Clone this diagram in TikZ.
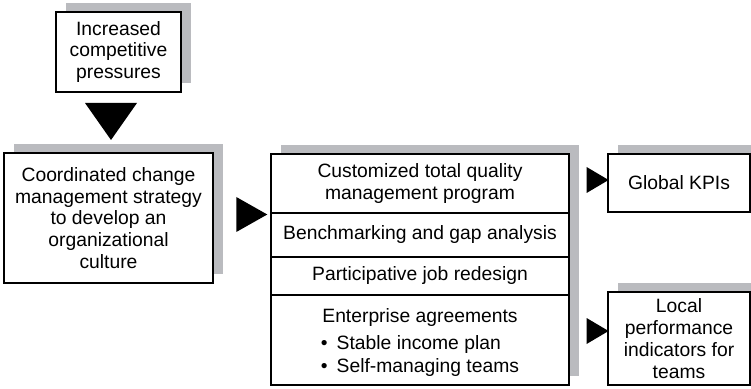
\documentclass[tikz,border=0pt]{standalone}
\usepackage{fontspec}
\setmainfont{Liberation Sans}
\usetikzlibrary{shapes,shadows,backgrounds,positioning,fit}
\definecolor{shadegray}{RGB}{186,187,191}
\tikzset{
  plainbox/.style = {draw=black, line width=1.4pt, fill=white, align=center,
    inner sep=2pt, outer sep=0pt, font=\fontsize{19.3}{21.8}\selectfont},
  shadebox/.style = {plainbox, general shadow={fill=shadegray,
    shadow xshift=10pt, shadow yshift=9pt}},
  cell/.style = {plainbox, minimum width=298pt},
  pointer/.style = {isosceles triangle, isosceles triangle stretches,
    fill=black, inner sep=0pt, outer sep=0pt}
}

\begin{document}
\begin{tikzpicture}[x=1pt,y=1pt]
  \clip (0,0) rectangle (751,388);
  % input and strategy
  \node [shadebox, minimum width=125pt, minimum height=80pt] (press) at (118.5,336)
    {Increased\\competitive\\pressures};
  \node [shadebox, minimum width=209pt, minimum height=130pt] (strategy) at (108.5,170)
    {Coordinated change\\management strategy\\to develop an\\organizational\\culture};
  % stack of measures
  \node [cell, minimum height=59pt] (tqm) at (420,204.5)
    {Customized total quality\\management program};
  \node [cell, minimum height=44pt, below=0pt of tqm] (bench)
    {Benchmarking and gap analysis};
  \node [cell, minimum height=38pt, below=0pt of bench] (redesign)
    {Participative job redesign};
  \node [cell, minimum height=90pt, below=0pt of redesign] (agree) {};
  \node [align=center, font=\fontsize{19.3}{21.8}\selectfont] (agreetext)
    at ([yshift=-4pt]agree.center)
    {Enterprise agreements\\[7pt]
     \begin{tabular}{@{}l@{}}\textbullet\hspace{9pt}Stable income plan\\[1pt]
       \textbullet\hspace{9pt}Self-managing teams\end{tabular}};
  \begin{scope}[on background layer]
    \node [shadebox, fit=(tqm)(agree), inner sep=0pt] (stack) {};
  \end{scope}
  % outcomes
  \node [shadebox, minimum width=142pt, minimum height=58pt] (kpi) at (679,205)
    {Global KPIs};
  \node [shadebox, minimum width=142pt, minimum height=93pt] (local) at (679,49.5)
    {Local\\performance\\indicators for\\teams};
  % pointers
  \node [pointer, shape border rotate=-90, minimum width=52pt, minimum height=37pt]
    (p1) at (111,271.5) {};
  \node [pointer, minimum width=35pt, minimum height=31pt] (p2) at (246.5,173.5) {};
  \node [pointer, minimum width=26pt, minimum height=22pt] (p3) at (594,208) {};
  \node [pointer, minimum width=26pt, minimum height=22pt] (p4) at (594,57) {};
\end{tikzpicture}
\end{document}
